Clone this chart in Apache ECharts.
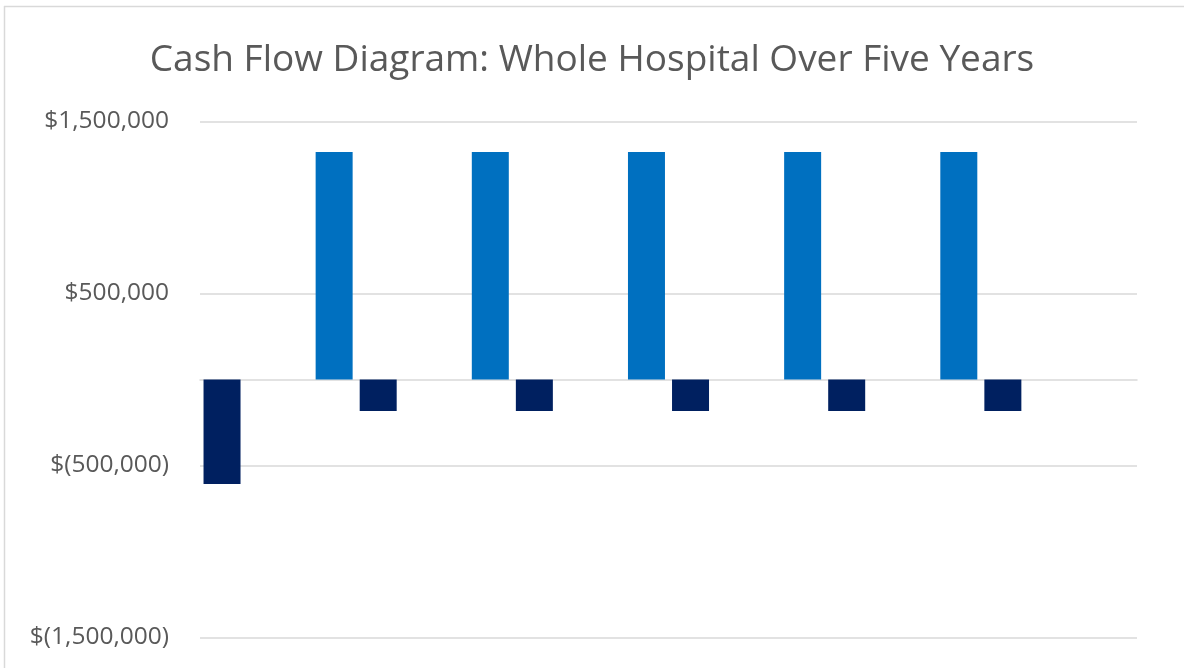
<!DOCTYPE html>
<html>
<head>
<meta charset="utf-8">
<script src="https://cdn.jsdelivr.net/npm/echarts@6/dist/echarts.min.js"></script>
<style>
html,body{margin:0;padding:0;background:#fff;}
#chart{width:1184px;height:668px;}
</style>
</head>
<body>
<div id="chart"></div>
<script>
const title = 'Cash Flow Diagram: Whole Hospital Over Five Years';
const categories = ['Year 0', 'Year 1', 'Year 2', 'Year 3', 'Year 4', 'Year 5'];
const outflows = [-608000, -183000, -183000, -183000, -183000, -183000];
const inflows = [1322000, 1322000, 1322000, 1322000, 1322000, null];
const yTicks = [-1500000, -500000, 500000, 1500000];

function fmt(v) {
  const s = Math.abs(v).toLocaleString('en-US');
  return v < 0 ? '$(' + s + ')' : '$' + s;
}

const chart = echarts.init(document.getElementById('chart'), null, {renderer: 'canvas'});
chart.setOption({
  backgroundColor: '#ffffff',
  animation: false,
  title: {
    text: title,
    left: 'center',
    top: 37,
    textStyle: {fontFamily: 'Open Sans', fontWeight: 'normal', fontSize: 37, color: '#595959'}
  },
  graphic: [
    {type: 'line', shape: {x1: 4, y1: 6.5, x2: 1184, y2: 6.5}, style: {stroke: '#d9d9d9', lineWidth: 1.5}},
    {type: 'line', shape: {x1: 4.5, y1: 6, x2: 4.5, y2: 668}, style: {stroke: '#d9d9d9', lineWidth: 1.5}}
  ],
  grid: {left: 200, right: 47, top: 121.5, bottom: 30.5, containLabel: false},
  xAxis: {
    type: 'category',
    data: categories,
    boundaryGap: true,
    axisLine: {show: true, onZero: true, lineStyle: {color: '#d9d9d9', width: 1.5}},
    axisTick: {show: false},
    axisLabel: {show: false},
    splitLine: {show: false}
  },
  yAxis: {
    type: 'value',
    min: yTicks[0],
    max: yTicks[yTicks.length - 1],
    interval: 1000000,
    axisLine: {show: false},
    axisTick: {show: false},
    axisLabel: {
      margin: 31,
      formatter: fmt,
      fontFamily: 'Open Sans',
      fontSize: 24.5,
      color: '#595959'
    },
    splitLine: {show: true, lineStyle: {color: '#d9d9d9', width: 1.5}}
  },
  series: [
    {
      name: 'Outflows',
      type: 'bar',
      data: outflows,
      barWidth: 37,
      barGap: '203%',
      itemStyle: {color: '#002060'}
    },
    {
      name: 'Inflows',
      type: 'bar',
      data: inflows,
      barWidth: 37,
      barGap: '203%',
      itemStyle: {color: '#0070c0'}
    }
  ]
});
</script>
</body>
</html>
